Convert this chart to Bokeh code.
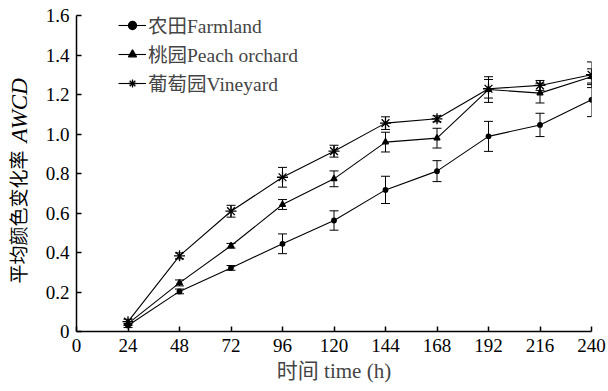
import math
from bokeh.plotting import figure
from bokeh.layouts import row
from bokeh.models import ColumnDataSource, Whisker, TeeHead, FixedTicker, Legend, LegendItem
from bokeh.core.properties import value
from bokeh.embed import file_html
from bokeh.resources import INLINE

# Incubation time (h)
hours = [24, 48, 72, 96, 120, 144, 168, 192, 216, 240]

# Average well colour development (AWCD) and standard errors
farmland = [0.03, 0.203, 0.322, 0.444, 0.562, 0.717, 0.812, 0.988, 1.046, 1.173]
farmland_err = [0.01, 0.012, 0.012, 0.05, 0.049, 0.069, 0.053, 0.076, 0.059, 0.085]

peach = [0.04, 0.246, 0.434, 0.643, 0.773, 0.959, 0.979, 1.225, 1.207, 1.29]
peach_err = [0.01, 0.015, 0.012, 0.025, 0.04, 0.05, 0.05, 0.065, 0.05, 0.04]

vineyard = [0.05, 0.383, 0.609, 0.781, 0.913, 1.055, 1.077, 1.229, 1.246, 1.30]
vineyard_err = [0.012, 0.015, 0.03, 0.05, 0.03, 0.032, 0.015, 0.047, 0.025, 0.065]

x_ticks = [0, 24, 48, 72, 96, 120, 144, 168, 192, 216, 240]
y_ticks = [0, 0.2, 0.4, 0.6, 0.8, 1.0, 1.2, 1.4, 1.6]

FONT = "'Liberation Serif', 'Times New Roman', 'Noto Sans CJK SC'"

TOP, BOTTOM = 15, 60          # borders above / below the plotting frame
STRIP = 40                    # width of the y-title strip
H = 391

# ---- main chart -----------------------------------------------------------
p = figure(width=608 - STRIP, height=H, x_range=(0, 240), y_range=(0, 1.6),
           output_backend="svg", toolbar_location=None,
           min_border_left=76 - STRIP, min_border_right=17,
           min_border_top=TOP, min_border_bottom=BOTTOM)
p.outline_line_color = None
p.grid.visible = False
p.background_fill_color = "white"

for ax in (p.xaxis, p.yaxis):
    ax.axis_line_width = 1.5
    ax.axis_line_color = "black"
    ax.major_tick_in = 5
    ax.major_tick_out = 0
    ax.major_tick_line_width = 1.5
    ax.minor_tick_line_color = None
    ax.major_label_text_font = FONT
    ax.major_label_text_font_size = "19px"
    ax.major_label_text_color = "black"

p.xaxis.ticker = FixedTicker(ticks=x_ticks)
p.xaxis.major_label_standoff = 7
p.xaxis.axis_label = "时间 time (h)"
p.xaxis.axis_label_text_font = FONT
p.xaxis.axis_label_text_font_size = "21px"
p.xaxis.axis_label_text_font_style = "normal"
p.xaxis.axis_label_standoff = 4

p.yaxis.ticker = FixedTicker(ticks=y_ticks)
p.yaxis.major_label_overrides = {t: ("0" if t == 0 else f"{t:.1f}") for t in y_ticks}
p.yaxis.major_label_standoff = 7


def series(vals, errs):
    return ColumnDataSource(dict(
        x=hours, y=vals,
        upper=[v + e for v, e in zip(vals, errs)],
        lower=[v - e for v, e in zip(vals, errs)],
    ))


items = []
specs = [
    ("农田Farmland", farmland, farmland_err, "circle", 4.5),
    ("桃园Peach orchard", peach, peach_err, "triangle", 6),
    ("葡萄园Vineyard", vineyard, vineyard_err, "asterisk", 11),
]
for name, vals, errs, marker, size in specs:
    src = series(vals, errs)
    w = Whisker(source=src, base="x", upper="upper", lower="lower",
                line_color="black", line_width=1,
                upper_head=TeeHead(size=9, line_color="black", line_width=1),
                lower_head=TeeHead(size=9, line_color="black", line_width=1))
    p.add_layout(w)
    ln = p.line("x", "y", source=src, line_color="black", line_width=1.1)
    mk = p.scatter("x", "y", source=src, marker=marker, size=size,
                   line_color="black", fill_color="black", line_width=1.3)
    items.append(LegendItem(label=name, renderers=[ln, mk]))

# legend near the top-left corner of the frame (offset from frame bottom-left)
legend = Legend(items=items, location=(42, 234),
                label_text_font=FONT, label_text_font_size="19.5px",
                label_standoff=2, glyph_width=28, glyph_height=20,
                spacing=0, padding=0, margin=0,
                border_line_color=None, background_fill_alpha=0)
p.add_layout(legend)

# ---- narrow strip carrying the rotated y-axis title --------------------------
# its frame is aligned with the main frame, so the y range spans the same
# pixel rows (value = distance from the bottom of the page)
ylab = figure(width=STRIP, height=H, x_range=(0, STRIP), y_range=(BOTTOM, H - TOP),
              output_backend="svg", toolbar_location=None,
              min_border=0, min_border_left=0, min_border_right=0,
              min_border_top=TOP, min_border_bottom=BOTTOM)
ylab.title.visible = False
ylab.axis.visible = False
ylab.grid.visible = False
ylab.outline_line_color = None
ylab.text(x=[19], y=[H - 283], text=["平均颜色变化率"], angle=math.pi / 2,
          text_font=value(FONT), text_font_size="19px", text_align="left",
          text_baseline="middle", text_color="black")
ylab.text(x=[19], y=[H - 142], text=["AWCD"], angle=math.pi / 2,
          text_font=value(FONT), text_font_size="23px", text_font_style="italic",
          text_align="left", text_baseline="middle", text_color="black")

layout = row(ylab, p, spacing=0)
open("out.html", "w").write(file_html(layout, INLINE))
